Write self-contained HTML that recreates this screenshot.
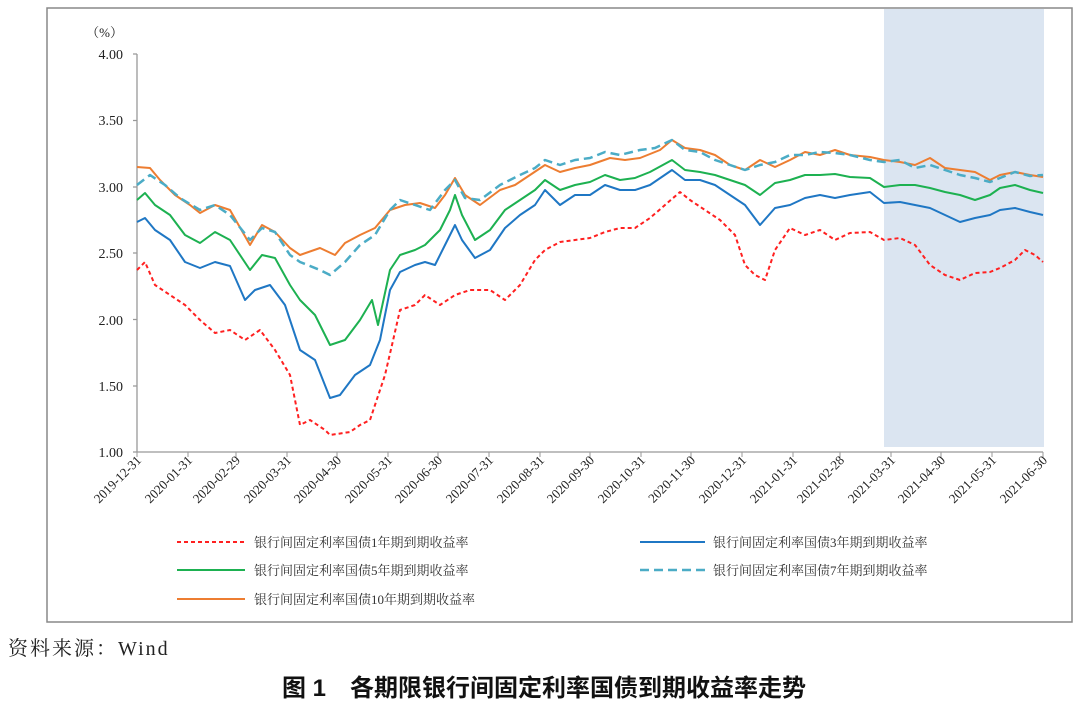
<!DOCTYPE html>
<html><head><meta charset="utf-8"><style>
body{margin:0;background:#fff;width:1080px;height:706px;overflow:hidden}
svg{display:block}
</style></head><body>
<svg width="1080" height="706" xmlns="http://www.w3.org/2000/svg" font-family="'Liberation Serif','Noto Serif CJK SC',serif">
<rect x="47" y="8" width="1025" height="614" fill="none" stroke="#888" stroke-width="1.5"/>
<rect x="884" y="9" width="160" height="438" fill="#dbe5f1"/>
<g fill="#222" font-size="14" text-anchor="end">
<text x="123" y="37" font-size="13">（%）</text>
<text x="123" y="59">4.00</text><text x="123" y="125">3.50</text><text x="123" y="192">3.00</text>
<text x="123" y="258">2.50</text><text x="123" y="325">2.00</text><text x="123" y="391">1.50</text><text x="123" y="457">1.00</text>
</g>
<g stroke="#999" stroke-width="1.3" fill="none">
<line x1="137" y1="54" x2="137" y2="452"/>
<line x1="137" y1="452" x2="1043" y2="452"/>
<path d="M133 54H137M133 120.5H137M133 187H137M133 253H137M133 319.5H137M133 386H137M133 452H137"/>
</g>
<g fill="none" stroke-width="2" stroke-linejoin="round">
<polyline stroke="#ed7d31" points="137,167 150,168 160,180 175,195 190,205 200,213 215,205 230,210 250,245 262,225 275,232 290,248 300,255 320,248 335,255 345,243 360,235 375,228 390,210 405,205 420,203 435,208 445,195 455,178 465,195 480,205 500,190 515,185 530,175 545,165 560,172 575,168 590,165 610,158 625,160 640,158 660,150 672,140 685,148 700,150 715,155 730,165 745,170 760,160 775,167 790,160 805,152 820,155 835,150 850,155 870,157 884,160 900,162 915,165 930,158 945,168 960,170 975,172 990,180 1000,175 1015,172 1030,175 1043,177"/>
<polyline stroke="#4bacc6" stroke-width="2.5" stroke-dasharray="9,5" points="137,185 150,175 165,185 180,198 200,210 215,205 230,215 250,240 262,228 275,232 290,255 300,262 320,270 330,275 345,262 360,245 375,235 390,210 400,200 415,205 430,210 445,190 455,180 465,198 480,200 500,185 520,175 535,168 545,160 560,165 575,160 590,158 605,152 620,155 640,150 655,148 672,140 685,150 700,152 715,160 730,165 745,170 760,165 775,162 790,155 805,155 820,152 835,153 850,155 870,160 884,162 900,160 915,168 930,165 945,170 960,175 975,178 990,182 1000,178 1015,172 1030,176 1043,175"/>
<polyline stroke="#1db151" points="137,200 145,193 155,205 170,215 185,235 200,243 215,232 230,240 250,270 262,255 275,258 290,285 300,300 315,315 330,345 345,340 360,320 372,300 378,325 390,270 400,255 415,250 425,245 440,230 450,210 455,195 462,215 475,240 490,230 505,210 520,200 535,190 545,180 560,190 575,185 590,182 605,175 620,180 635,178 650,172 672,160 685,170 700,172 715,175 730,180 745,185 760,195 775,183 790,180 805,175 820,175 835,174 850,177 870,178 884,187 900,185 915,185 930,188 945,192 960,195 975,200 990,195 1000,188 1015,185 1030,190 1043,193"/>
<polyline stroke="#1f77c4" points="137,222 145,218 155,230 170,240 185,262 200,268 215,262 230,266 245,300 255,290 270,285 285,305 300,350 315,360 330,398 340,395 355,375 370,365 380,340 390,290 400,272 415,265 425,262 435,265 445,245 455,225 462,240 475,258 490,250 505,228 520,215 535,205 545,190 560,205 575,195 590,195 605,185 620,190 635,190 650,185 672,170 685,180 700,180 715,185 730,195 745,205 760,225 775,208 790,205 805,198 820,195 835,198 850,195 870,192 884,203 900,202 915,205 930,208 945,215 960,222 975,218 990,215 1000,210 1015,208 1030,212 1043,215"/>
<polyline stroke="#ff2020" stroke-dasharray="4,3" points="137,270 145,262 155,285 170,295 185,305 200,320 215,333 230,330 245,340 260,330 275,350 290,375 300,425 310,420 325,430 330,435 350,432 360,425 370,420 375,405 385,375 392,345 400,310 415,305 425,295 440,305 455,295 470,290 490,290 505,300 520,285 535,260 545,250 560,242 575,240 590,238 605,232 620,228 635,228 650,218 665,205 680,192 690,200 705,210 720,220 735,235 745,265 755,275 765,280 775,250 790,228 805,235 820,230 835,240 850,233 870,232 884,240 900,238 915,245 930,265 945,275 960,280 975,273 990,272 1000,268 1015,260 1025,250 1035,255 1043,262"/>
</g>
<g stroke-width="2" fill="none">
<line x1="177" y1="542" x2="245" y2="542" stroke="#ff2020" stroke-dasharray="4,3"/>
<line x1="177" y1="570" x2="245" y2="570" stroke="#1db151"/>
<line x1="177" y1="599" x2="245" y2="599" stroke="#ed7d31"/>
<line x1="640" y1="542" x2="705" y2="542" stroke="#1f77c4"/>
<line x1="640" y1="570" x2="705" y2="570" stroke="#4bacc6" stroke-width="2.5" stroke-dasharray="9,5"/>
</g>
<g font-size="13" fill="#333">
<text x="254" y="547">银行间固定利率国债1年期到期收益率</text>
<text x="254" y="575">银行间固定利率国债5年期到期收益率</text>
<text x="254" y="604">银行间固定利率国债10年期到期收益率</text>
<text x="713" y="547">银行间固定利率国债3年期到期收益率</text>
<text x="713" y="575">银行间固定利率国债7年期到期收益率</text>
</g>
<text x="8" y="655" font-size="20" fill="#222" letter-spacing="2">资料来源：Wind</text>
<text x="544" y="696" font-size="24" font-weight="bold" text-anchor="middle" fill="#111" font-family="'Liberation Sans','Noto Sans CJK SC',sans-serif">图 1　各期限银行间固定利率国债到期收益率走势</text>
<g font-size="13" fill="#222" text-anchor="end" stroke="#999">
<line x1="137" y1="452" x2="137" y2="457"/><text stroke="none" transform="translate(142,461) rotate(-45)">2019-12-31</text>
<line x1="188" y1="452" x2="188" y2="457"/><text stroke="none" transform="translate(193,461) rotate(-45)">2020-01-31</text>
<line x1="236" y1="452" x2="236" y2="457"/><text stroke="none" transform="translate(241,461) rotate(-45)">2020-02-29</text>
<line x1="287" y1="452" x2="287" y2="457"/><text stroke="none" transform="translate(292,461) rotate(-45)">2020-03-31</text>
<line x1="337" y1="452" x2="337" y2="457"/><text stroke="none" transform="translate(342,461) rotate(-45)">2020-04-30</text>
<line x1="388" y1="452" x2="388" y2="457"/><text stroke="none" transform="translate(393,461) rotate(-45)">2020-05-31</text>
<line x1="438" y1="452" x2="438" y2="457"/><text stroke="none" transform="translate(443,461) rotate(-45)">2020-06-30</text>
<line x1="489" y1="452" x2="489" y2="457"/><text stroke="none" transform="translate(494,461) rotate(-45)">2020-07-31</text>
<line x1="540" y1="452" x2="540" y2="457"/><text stroke="none" transform="translate(545,461) rotate(-45)">2020-08-31</text>
<line x1="590" y1="452" x2="590" y2="457"/><text stroke="none" transform="translate(595,461) rotate(-45)">2020-09-30</text>
<line x1="641" y1="452" x2="641" y2="457"/><text stroke="none" transform="translate(646,461) rotate(-45)">2020-10-31</text>
<line x1="691" y1="452" x2="691" y2="457"/><text stroke="none" transform="translate(696,461) rotate(-45)">2020-11-30</text>
<line x1="742" y1="452" x2="742" y2="457"/><text stroke="none" transform="translate(747,461) rotate(-45)">2020-12-31</text>
<line x1="793" y1="452" x2="793" y2="457"/><text stroke="none" transform="translate(798,461) rotate(-45)">2021-01-31</text>
<line x1="840" y1="452" x2="840" y2="457"/><text stroke="none" transform="translate(845,461) rotate(-45)">2021-02-28</text>
<line x1="891" y1="452" x2="891" y2="457"/><text stroke="none" transform="translate(896,461) rotate(-45)">2021-03-31</text>
<line x1="941" y1="452" x2="941" y2="457"/><text stroke="none" transform="translate(946,461) rotate(-45)">2021-04-30</text>
<line x1="992" y1="452" x2="992" y2="457"/><text stroke="none" transform="translate(997,461) rotate(-45)">2021-05-31</text>
<line x1="1043" y1="452" x2="1043" y2="457"/><text stroke="none" transform="translate(1048,461) rotate(-45)">2021-06-30</text>
</g>
</svg>
</body></html>
